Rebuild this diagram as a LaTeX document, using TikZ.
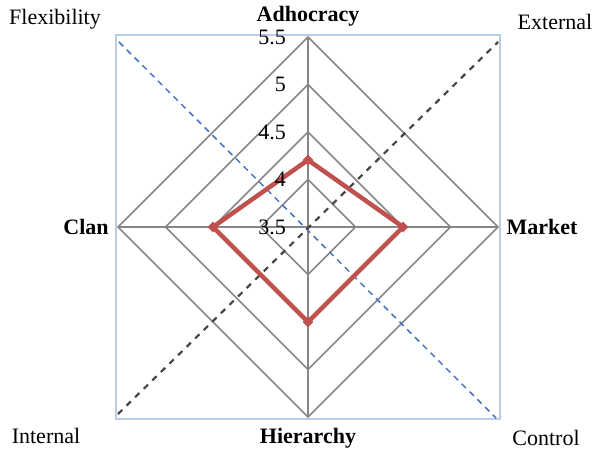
\documentclass[tikz,border=0pt]{standalone}
\usepackage{fontspec}
\setmainfont{Liberation Serif}
\usetikzlibrary{shapes.geometric}
\definecolor{gridgray}{RGB}{134,134,134}
\definecolor{boxblue}{RGB}{185,205,235}
\definecolor{dashblue}{RGB}{68,114,196}
\definecolor{seriesred}{RGB}{192,80,77}
\definecolor{darkdash}{RGB}{70,70,70}
\tikzset{
  lbl/.style={font=\fontsize{22bp}{26bp}\selectfont, inner sep=0pt},
  axlbl/.style={lbl, font=\fontsize{22bp}{26bp}\selectfont\bfseries},
  tick/.style={lbl, anchor=east},
  ring/.style={draw=gridgray, line width=1.5bp},
  series/.style={draw=seriesred, line width=4.5bp, line join=round},
  mk/.style={diamond, fill=seriesred, minimum size=11bp, inner sep=0pt}
}
\begin{document}
\begin{tikzpicture}[x=1bp,y=-1bp]
\useasboundingbox (0,0) rectangle (596,454);
% plot area box
\draw[boxblue, line width=1.2bp] (116,35) rectangle (500,419);
\draw[ring] (308,179.5) -- (355.5,227) -- (308,274.5) -- (260.5,227) -- cycle;
\draw[ring] (308,132) -- (403,227) -- (308,322) -- (213,227) -- cycle;
\draw[ring] (308,84.5) -- (450.5,227) -- (308,369.5) -- (165.5,227) -- cycle;
\draw[ring] (308,37) coordinate (top) -- (498,227) coordinate (right) -- (308,417) coordinate (bottom) -- (118,227) coordinate (left) -- cycle;
\draw[ring] (top) -- (bottom);
\draw[ring] (left) -- (right);
% diagonals
\coordinate (tl) at (119,42);
\coordinate (br) at (496,418);
\coordinate (bl) at (118,414);
\coordinate (tr) at (498,42);
\draw[dashblue, line width=1.5bp, dash pattern=on 6bp off 5bp] (tl) -- (br);
\draw[darkdash, line width=2.2bp, dash pattern=on 6bp off 6bp] (bl) -- (tr);
% series
\coordinate (pA) at (308,160);
\coordinate (pM) at (403,227);
\coordinate (pH) at (308,322);
\coordinate (pC) at (213,227);
\draw[series] (pA) -- (pM) -- (pH) -- (pC) -- cycle;
\foreach \p in {pA,pM,pH,pC}{ \node[mk] at (\p) {}; }
% tick labels
\node[tick] (t55) at (286,37) {5.5};
\node[tick] (t5) at (286,84.5) {5};
\node[tick] (t45) at (286,132) {4.5};
\node[tick] (t4) at (286,179.5) {4};
\node[tick] (t35) at (286,227) {3.5};
% axis labels
\node[axlbl] (adh) at (308,16) {Adhocracy};
\node[axlbl] (mkt) at (542,227) {Market};
\node[axlbl] (hie) at (308,438) {Hierarchy};
\node[axlbl] (clan) at (86,227) {Clan};
% corner labels
\node[lbl] (flex) at (55,19) {Flexibility};
\node[lbl] (ext) at (555,22) {External};
\node[lbl] (int) at (46,436) {Internal};
\node[lbl] (ctl) at (546,438) {Control};
\end{tikzpicture}
\end{document}
